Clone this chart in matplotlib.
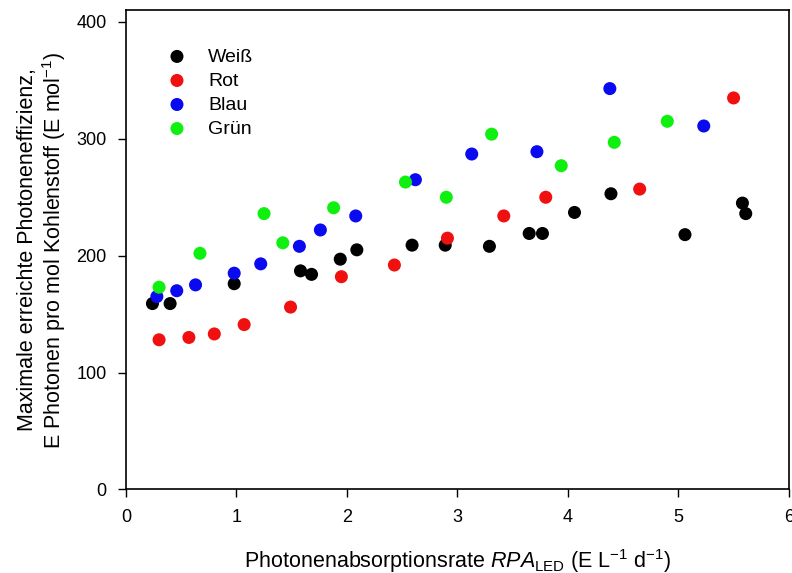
"""Maximale Photoneneffizienz vs. Photonenabsorptionsrate, je LED-Farbe."""

import matplotlib
matplotlib.use("Agg")
import matplotlib.pyplot as plt

plt.rcParams["font.family"] = ["Liberation Sans", "DejaVu Sans"]
plt.rcParams["mathtext.fontset"] = "custom"
plt.rcParams["mathtext.rm"] = "Liberation Sans"
plt.rcParams["mathtext.it"] = "Liberation Sans:italic"

# Weiß
weiss_x = [0.24, 0.40, 0.98, 1.58, 1.68, 1.94, 2.09, 2.59, 2.89, 3.29, 3.65, 3.77, 4.06, 4.39, 5.06, 5.58, 5.61]
weiss_y = [159, 159, 176, 187, 184, 197, 205, 209, 209, 208, 219, 219, 237, 253, 218, 245, 236]
# Rot
rot_x = [0.30, 0.57, 0.80, 1.07, 1.49, 1.95, 2.43, 2.91, 3.42, 3.80, 4.65, 5.50]
rot_y = [128, 130, 133, 141, 156, 182, 192, 215, 234, 250, 257, 335]
# Blau
blau_x = [0.28, 0.46, 0.63, 0.98, 1.22, 1.57, 1.76, 2.08, 2.62, 3.13, 3.72, 4.38, 5.23]
blau_y = [165, 170, 175, 185, 193, 208, 222, 234, 265, 287, 289, 343, 311]
# Grün
gruen_x = [0.30, 0.67, 1.25, 1.42, 1.88, 2.53, 2.90, 3.31, 3.94, 4.42, 4.90]
gruen_y = [173, 202, 236, 211, 241, 263, 250, 304, 277, 297, 315]

series = [
    ("Weiß", weiss_x, weiss_y, "#000000"),
    ("Rot", rot_x, rot_y, "#f01010"),
    ("Blau", blau_x, blau_y, "#0a0af0"),
    ("Grün", gruen_x, gruen_y, "#10f010"),
]

fig = plt.figure(figsize=(7.92, 5.73), dpi=100)
ax = fig.add_axes([0.159, 0.146, 0.837, 0.836])

for label, xs, ys, color in series:
    ax.scatter(xs, ys, s=88, color=color, edgecolors="none", label=label, zorder=3)

ax.set_xlim(0, 6)
ax.set_ylim(0, 410)
ax.set_xticks(range(0, 7))
ax.set_yticks([0, 100, 200, 300, 400])
ax.tick_params(direction="out", length=6, width=1, labelsize=13, pad=8)
for sp in ax.spines.values():
    sp.set_linewidth(1.2)

ax.set_xlabel(r"Photonenabsorptionsrate $\it{RPA}_{\rm LED}$ (E L$^{-1}$ d$^{-1}$)",
              fontsize=15.5, labelpad=15)
ax.set_ylabel("Maximale erreichte Photoneneffizienz,\n"
              r"E Photonen pro mol Kohlenstoff (E mol$^{-1}$)",
              fontsize=15.5, labelpad=6, linespacing=1.1)

ax.legend(loc="upper left", bbox_to_anchor=(0.033, 0.958), frameon=False,
          fontsize=14, handlelength=1.2, handletextpad=1.0, labelspacing=0.33,
          scatterpoints=1)

fig.savefig("out.png", dpi=100)
